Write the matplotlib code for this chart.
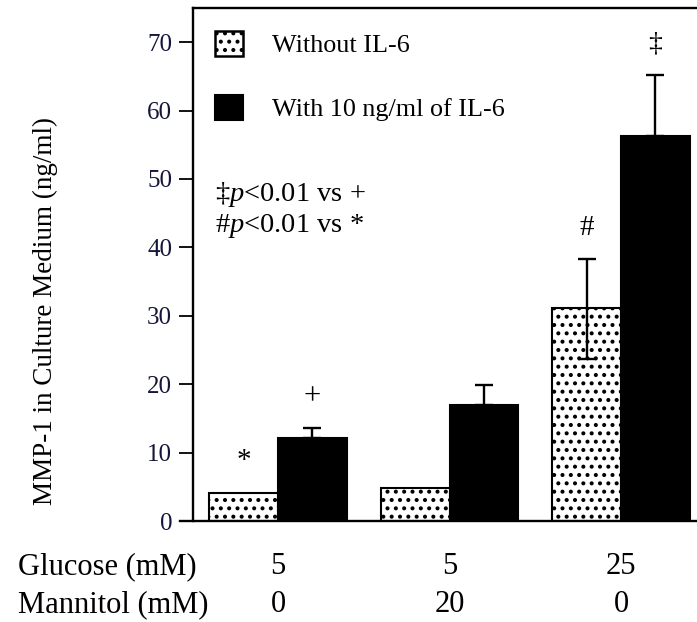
import matplotlib
matplotlib.use("Agg")
import matplotlib.pyplot as plt
import matplotlib.transforms as mtransforms
from matplotlib.patches import Patch
import numpy as np

plt.rcParams['font.family'] = ['Liberation Serif', 'DejaVu Serif']
plt.rcParams['mathtext.fontset'] = 'custom'
plt.rcParams['mathtext.rm'] = 'Liberation Serif'
plt.rcParams['mathtext.it'] = 'Liberation Serif:italic'
plt.rcParams['hatch.linewidth'] = 1.7

# ---- data ----
groups = ["G5/M0", "G5/M20", "G25/M0"]
glucose = ["5", "5", "25"]
mannitol = ["0", "20", "0"]
without_il6 = [4.1, 4.8, 31.1]
with_il6 = [12.1, 17.0, 56.3]
err_without_up = [0.0, 0.0, 7.2]
err_without_down = [0.0, 0.0, 7.4]
err_with_up = [1.5, 2.9, 8.9]
marks_without = ["*", "", "#"]
marks_with = ["+", "", "‡"]
series_labels = ["Without IL-6", "With 10 ng/ml of IL-6"]
yticks = [0, 10, 20, 30, 40, 50, 60, 70]

fig = plt.figure(figsize=(6.97, 6.22), dpi=100)
ax = fig.add_axes([193/697, 1-521/622, (697-193)/697, (521-8)/622])

x = np.arange(len(groups))
w = 0.40
ax.bar(x - w/2, without_il6, w, facecolor='white', edgecolor='black',
       hatch='..', linewidth=1.5, zorder=2)
ax.bar(x + w/2, with_il6, w, facecolor='black', edgecolor='black',
       linewidth=1.5, zorder=2)

ew = [i for i, e in enumerate(err_without_up) if e > 0]
ax.errorbar(x[ew] - w/2, np.array(without_il6)[ew],
            yerr=[np.array(err_without_down)[ew], np.array(err_without_up)[ew]],
            fmt='none', ecolor='black', elinewidth=1.7, capsize=6.5, capthick=1.7, zorder=3)
ax.errorbar(x + w/2, with_il6, yerr=[np.zeros(3), err_with_up],
            fmt='none', ecolor='black', elinewidth=1.7, capsize=6.5, capthick=1.7, zorder=3)

pad = 4.6
for i in range(3):
    if marks_without[i]:
        ax.text(x[i] - w/2, without_il6[i] + err_without_up[i] + pad, marks_without[i],
                ha='center', va='center', fontsize=21)
    if marks_with[i]:
        ax.text(x[i] + w/2, with_il6[i] + err_with_up[i] + pad, marks_with[i],
                ha='center', va='center', fontsize=22 if marks_with[i] == "+" else 20)

ax.set_xlim(-0.496, 2.443)
ax.set_ylim(0, 75)
ax.set_yticks(yticks)
ax.set_xticks([])
ax.tick_params(axis='y', direction='out', length=10, width=1.3, pad=5,
               labelsize=18, colors='black', labelcolor='#15153a')
for s in ['left', 'top', 'bottom']:
    ax.spines[s].set_linewidth(1.7)
ax.spines['right'].set_visible(False)
ax.spines['bottom'].set_bounds(-0.57, 2.5)

handles = [Patch(facecolor='white', edgecolor='black', hatch='..', linewidth=1.8),
           Patch(facecolor='black', edgecolor='black', linewidth=1.5)]
ax.legend(handles, series_labels, loc='upper left', bbox_to_anchor=(0.0437, 0.955),
          frameon=False, fontsize=18.8, handlelength=1.07, handleheight=1.07,
          handletextpad=1.1, labelspacing=1.45, borderpad=0, borderaxespad=0)

ax.text(0.044, 0.636, "‡$\\it{p}$<0.01 vs +", transform=ax.transAxes,
        fontsize=20.5, va='center', ha='left')
ax.text(0.044, 0.576, "#$\\it{p}$<0.01 vs *", transform=ax.transAxes,
        fontsize=20.5, va='center', ha='left')

fig.text(45/697, 1-311/622, "MMP-1 in Culture Medium (ng/ml)", rotation=90,
         ha='center', va='center', fontsize=19.5)

trans = mtransforms.blended_transform_factory(ax.transData, fig.transFigure)
row_y = [1-567/622, 1-605/622]
fig.text(18/697, row_y[0], "Glucose (mM)", ha='left', va='center', fontsize=22)
fig.text(18/697, row_y[1], "Mannitol (mM)", ha='left', va='center', fontsize=22)
for i in range(3):
    ax.text(x[i], row_y[0], glucose[i], transform=trans, ha='center', va='center', fontsize=22)
    ax.text(x[i], row_y[1], mannitol[i], transform=trans, ha='center', va='center', fontsize=22)

fig.savefig("out.png", dpi=100)
